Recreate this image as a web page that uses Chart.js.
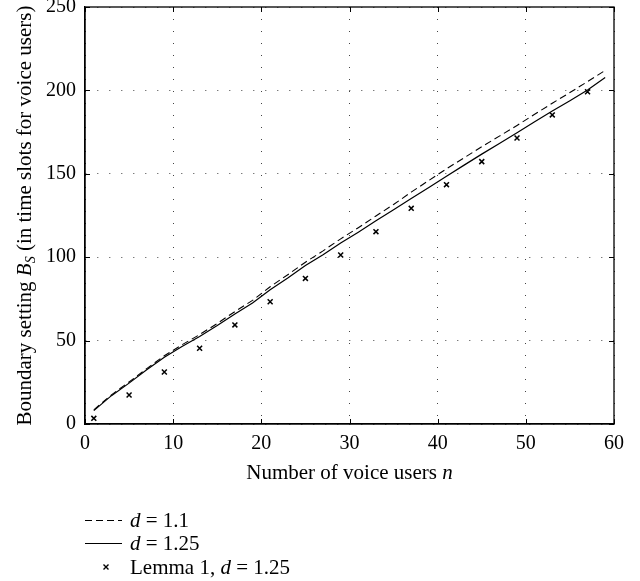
<!DOCTYPE html>
<html>
<head>
<meta charset="utf-8">
<script src="https://cdn.jsdelivr.net/npm/chart.js@4.4.1/dist/chart.umd.min.js"></script>
<style>
  body { margin: 0; background: #fff; }
  canvas { display: block; }
</style>
</head>
<body>
<canvas id="chart1" width="640" height="581"></canvas>
<script>
// values
var nLine = [1, 3, 5, 7, 9, 11, 13, 15, 17, 19, 21, 23, 25, 27, 29, 31, 33, 35, 37, 39, 41, 43, 45, 47, 49, 51, 53, 55, 57, 59];
var bsD110 = [8.5, 17.5, 25.2, 33.2, 40.9, 47.5, 53.6, 60.3, 67.4, 74.1, 82.3, 89.5, 97.0, 103.8, 111.0, 117.7, 124.7, 131.6, 139.0, 146.0, 153.0, 159.6, 166.2, 172.6, 179.0, 185.7, 192.3, 198.7, 205.3, 212.0];
var bsD125 = [8.0, 17.0, 24.5, 32.5, 40.0, 46.5, 52.5, 59.0, 66.0, 72.5, 80.5, 87.5, 95.0, 101.5, 108.5, 115.0, 121.8, 128.4, 135.2, 141.8, 148.5, 155.2, 161.8, 168.2, 174.6, 181.2, 187.6, 193.8, 200.2, 207.8];
var nLemma = [1, 5, 9, 13, 17, 21, 25, 29, 33, 37, 41, 45, 49, 53, 57];
var bsLemma = [3.4, 17.4, 31.2, 45.4, 59.4, 73.3, 87.3, 101.3, 115.3, 129.3, 143.5, 157.3, 171.5, 185.3, 199.2];
var xTicks = [0, 10, 20, 30, 40, 50, 60];
var yTicks = [0, 50, 100, 150, 200, 250];

var SERIF = '"Liberation Serif", "DejaVu Serif", serif';

function pts(xs, ys) {
    return xs.map(function(x, i){ return {x: x, y: ys[i]}; });
}

// draw a row of text pieces with their own fonts
function richText(ctx, x, y, parts) {
    parts.forEach(function(p){
        ctx.font = p[1];
        ctx.fillText(p[0], x, y + (p[2] || 0));
        x += ctx.measureText(p[0]).width;
    });
}
function richWidth(ctx, parts) {
    var w = 0;
    parts.forEach(function(p){ ctx.font = p[1]; w += ctx.measureText(p[0]).width; });
    return w;
}

var frame = {
    id: 'frame',
    afterDraw: function(chart) {
        var ctx = chart.ctx, a = chart.chartArea;
        var sx = chart.scales.x, sy = chart.scales.y;
        ctx.save();
        ctx.strokeStyle = '#000';
        ctx.lineWidth = 1;
        ctx.setLineDash([]);
        ctx.beginPath();
        xTicks.forEach(function(v){
            var px = Math.round(sx.getPixelForValue(v)) + 0.5;
            ctx.moveTo(px, a.bottom); ctx.lineTo(px, a.bottom - 5);
            ctx.moveTo(px, a.top); ctx.lineTo(px, a.top + 5);
        });
        yTicks.forEach(function(v){
            var py = Math.round(sy.getPixelForValue(v)) + 0.5;
            ctx.moveTo(a.left, py); ctx.lineTo(a.left + 5, py);
            ctx.moveTo(a.right, py); ctx.lineTo(a.right - 5, py);
        });
        ctx.stroke();
        ctx.lineWidth = 1.3;
        ctx.strokeRect(a.left, a.top, a.right - a.left, a.bottom - a.top);

        ctx.fillStyle = '#000';
        ctx.textAlign = 'left';
        ctx.textBaseline = 'alphabetic';
        var f = '21px ' + SERIF, fi = 'italic 21px ' + SERIF;

        // x title
        var xt = [['Number of voice users ', f], ['n', fi]];
        richText(ctx, (a.left + a.right) / 2 - richWidth(ctx, xt) / 2, 479, xt);

        // y title
        var yt = [['Boundary setting ', f], ['B', fi], ['S', 'italic 14px ' + SERIF, 4], [' (in time slots for voice users)', f]];
        ctx.save();
        ctx.translate(31, (a.top + a.bottom) / 2);
        ctx.rotate(-Math.PI / 2);
        richText(ctx, -richWidth(ctx, yt) / 2, 0, yt);
        ctx.restore();

        // legend
        var ds = chart.data.datasets;
        ctx.lineWidth = 1;
        ctx.setLineDash(ds[0].borderDash);
        ctx.beginPath(); ctx.moveTo(85, 520.5); ctx.lineTo(122, 520.5); ctx.stroke();
        ctx.setLineDash([]);
        ctx.beginPath(); ctx.moveTo(85, 543.5); ctx.lineTo(122, 543.5); ctx.stroke();
        ctx.lineWidth = 1.4;
        ctx.beginPath();
        ctx.moveTo(103.5, 564.5); ctx.lineTo(108.5, 569.5);
        ctx.moveTo(108.5, 564.5); ctx.lineTo(103.5, 569.5);
        ctx.stroke();
        richText(ctx, 130, 527, [['d', fi], [' = 1.1', f]]);
        richText(ctx, 130, 550, [['d', fi], [' = 1.25', f]]);
        richText(ctx, 130, 574, [['Lemma 1, ', f], ['d', fi], [' = 1.25', f]]);
        ctx.restore();
    }
};

var ctx = document.getElementById('chart1').getContext('2d');
var chart = new Chart(ctx, {
    type: 'line',
    data: {
        datasets: [{
            label: 'd = 1.1',
            data: pts(nLine, bsD110),
            borderColor: '#000',
            borderWidth: 1.1,
            borderDash: [7, 4],
            pointRadius: 0,
            tension: 0,
            fill: false
        }, {
            label: 'd = 1.25',
            data: pts(nLine, bsD125),
            borderColor: '#000',
            borderWidth: 1.2,
            pointRadius: 0,
            tension: 0,
            fill: false
        }, {
            label: 'Lemma 1, d = 1.25',
            data: pts(nLemma, bsLemma),
            showLine: false,
            pointStyle: 'crossRot',
            pointRadius: 3.5,
            pointBorderWidth: 1.5,
            pointBorderColor: '#000',
            borderColor: '#000'
        }]
    },
    options: {
        responsive: false,
        animation: false,
        devicePixelRatio: 1,
        layout: { padding: { top: 7, right: 26, left: 0, bottom: 0 } },
        plugins: {
            legend: { display: false },
            tooltip: { enabled: false }
        },
        scales: {
            x: {
                type: 'linear',
                min: 0,
                max: 60,
                afterBuildTicks: function(s){ s.ticks = xTicks.map(function(v){ return {value: v}; }); },
                afterFit: function(s){ s.height = 157; s.paddingLeft = 0; s.paddingRight = 0; },
                ticks: {
                    color: '#000',
                    padding: 8,
                    maxRotation: 0,
                    font: { family: SERIF, size: 20 }
                },
                grid: { color: '#444', lineWidth: 1, drawTicks: false },
                border: { display: true, color: '#000', width: 1.3, dash: [1, 11] }
            },
            y: {
                min: 0,
                max: 250,
                afterBuildTicks: function(s){ s.ticks = yTicks.map(function(v){ return {value: v}; }); },
                afterFit: function(s){ s.width = 85; s.paddingTop = 0; s.paddingBottom = 0; },
                ticks: {
                    color: '#000',
                    padding: 9,
                    font: { family: SERIF, size: 20 }
                },
                grid: { color: '#444', lineWidth: 1, drawTicks: false },
                border: { display: true, color: '#000', width: 1.3, dash: [1, 11] }
            }
        }
    },
    plugins: [frame]
});
</script>
</body>
</html>
